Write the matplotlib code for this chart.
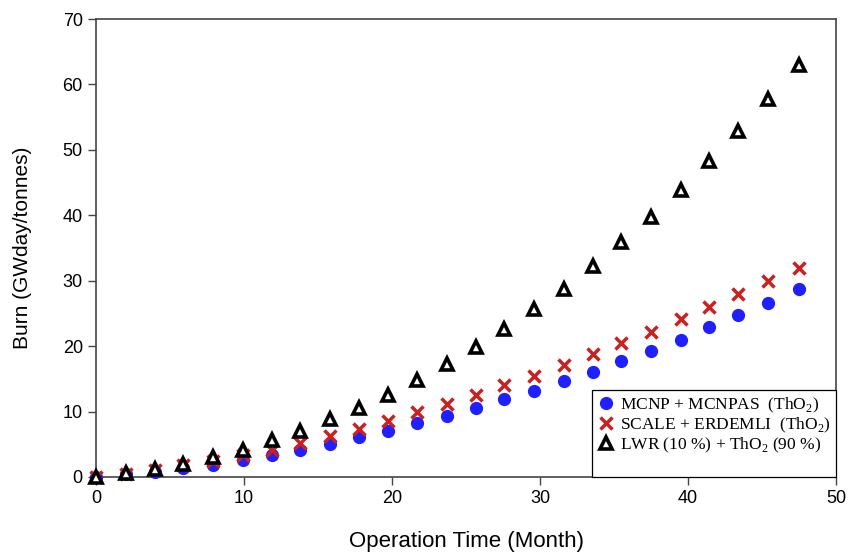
import matplotlib
matplotlib.use("Agg")
import matplotlib.pyplot as plt
from matplotlib.lines import Line2D

# operation time (month) and burn-up (GWday/tonnes)
months = [0, 2.0, 4.0, 5.9, 7.9, 9.9, 11.9, 13.8, 15.8, 17.8, 19.7, 21.7, 23.7,
          25.7, 27.6, 29.6, 31.6, 33.6, 35.5, 37.5, 39.5, 41.4, 43.4, 45.4, 47.5]
mcnp = [0, 0.4, 0.8, 1.3, 1.9, 2.6, 3.4, 4.2, 5.1, 6.1, 7.1, 8.2, 9.3,
        10.6, 11.9, 13.2, 14.6, 16.1, 17.7, 19.3, 21.0, 22.9, 24.7, 26.6, 28.7]
scale = [0, 0.5, 1.1, 1.8, 2.5, 3.3, 4.2, 5.2, 6.3, 7.4, 8.6, 9.9, 11.2,
         12.6, 14.0, 15.5, 17.1, 18.8, 20.5, 22.2, 24.2, 26.0, 28.0, 30.0, 32.0]
lwr = [0, 0.6, 1.2, 2.0, 3.0, 4.2, 5.6, 7.1, 8.8, 10.6, 12.6, 14.8, 17.2,
       19.8, 22.6, 25.6, 28.8, 32.2, 35.9, 39.7, 43.8, 48.3, 52.9, 57.7, 63.0]

labels = ["MCNP + MCNPAS  (ThO$_2$)",
          "SCALE + ERDEMLI  (ThO$_2$)",
          "LWR (10 %) + ThO$_2$ (90 %)"]

plt.rcParams["font.family"] = "Liberation Sans"
plt.rcParams["mathtext.fontset"] = "custom"
plt.rcParams["mathtext.rm"] = "Liberation Serif"

fig = plt.figure(figsize=(8.5, 5.54), dpi=100)
ax = fig.add_axes([0.113, 0.139, 0.8705, 0.8267])

ax.plot(months, mcnp, linestyle="none", marker="o", ms=8.5, color="#1f1fff",
        mec="#1f1fff", label=labels[0], zorder=3, clip_on=False)
ax.plot(months, scale, linestyle="none", marker="x", ms=8.5, mew=2.5,
        color="#cc2020", label=labels[1], zorder=4, clip_on=False)
ax.plot(months, lwr, linestyle="none", marker="^", ms=9, mew=2.6,
        mfc="white", mec="black", label=labels[2], zorder=5, clip_on=False)

ax.set_xlim(0, 50)
ax.set_ylim(0, 70)
ax.set_xticks([0, 10, 20, 30, 40, 50])
ax.set_yticks([0, 10, 20, 30, 40, 50, 60, 70])
ax.tick_params(direction="out", length=6, width=1, labelsize=13, color="#444444")
for s in ax.spines.values():
    s.set_color("#444444")
    s.set_linewidth(1.2)

ax.set_xlabel("Operation Time (Month)", fontsize=16, labelpad=17)
ax.set_ylabel("Burn (GWday/tonnes)", fontsize=15, labelpad=22)

# blank row keeps the empty space at the bottom of the legend box
handles, lbls = ax.get_legend_handles_labels()
handles.append(Line2D([], [], linestyle="none"))
lbls.append(" ")
leg = ax.legend(handles, lbls, loc="lower right", borderaxespad=0,
                frameon=True, fancybox=False, framealpha=1, handletextpad=0.3,
                handlelength=1.0, labelspacing=0.05, borderpad=0.3,
                prop={"family": "Liberation Serif", "size": 12.5})
leg.get_frame().set_edgecolor("black")
leg.get_frame().set_linewidth(0.9)

fig.savefig("out.png", dpi=100)
